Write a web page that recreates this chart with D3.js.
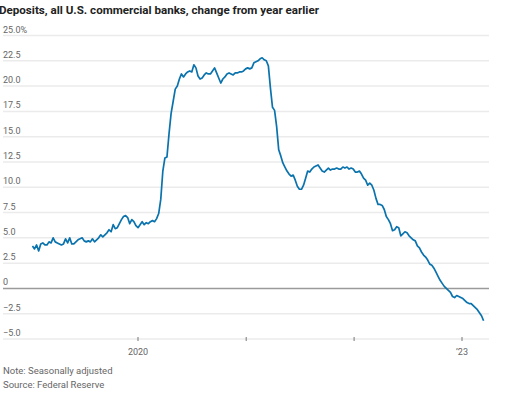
<!DOCTYPE html>
<html>
<head>
<meta charset="utf-8">
<script src="https://cdn.jsdelivr.net/npm/d3@7"></script>
<style>
  body { margin: 0; background: #fff; }
  text { font-family: Roboto, "Noto Sans", sans-serif; }
</style>
</head>
<body>
<script>
// weekly readings (Wednesdays), % change from a year earlier
const startDate = "2019-01-09";
const depositChange = [
  4.2, 3.9, 4.3, 3.7, 4.4, 4.5, 4.3, 4.3, 4.6, 4.5,
  5.0, 4.6, 4.5, 4.4, 4.3, 4.4, 4.9, 4.5, 5.0, 4.4,
  4.4, 4.6, 4.8, 4.9, 5.0, 4.7, 4.6, 4.7, 4.6, 4.9,
  4.6, 4.8, 5.0, 5.3, 5.1, 5.3, 5.5, 5.8, 5.6, 6.3,
  5.9, 6.0, 6.4, 6.8, 7.1, 7.2, 7.0, 6.4, 6.8, 6.6,
  6.2, 6.0, 6.3, 6.6, 6.3, 6.5, 6.4, 6.6, 6.7, 6.6,
  6.9, 7.4, 8.8, 11.6, 12.9, 13.0, 15.3, 17.3, 18.5, 19.7,
  20.0, 20.7, 21.2, 20.9, 21.2, 21.4, 21.5, 21.4, 22.1, 21.8,
  21.0, 20.7, 20.8, 21.1, 21.3, 21.2, 21.2, 21.5, 21.8, 21.3,
  20.8, 20.3, 20.7, 20.9, 21.2, 21.3, 21.2, 21.1, 21.3, 21.3,
  21.4, 21.4, 21.5, 21.7, 21.8, 21.7, 21.8, 22.3, 22.4, 22.5,
  22.7, 22.8, 22.6, 22.5, 22.0, 19.8, 17.9, 17.6, 16.0, 13.7,
  13.1, 12.4, 12.0, 11.6, 11.3, 11.1, 11.2, 10.7, 10.1, 9.8,
  9.8, 10.2, 10.9, 11.6, 11.5, 11.8, 12.0, 12.1, 12.2, 11.9,
  11.6, 11.5, 11.7, 11.9, 11.7, 11.8, 11.8, 11.9, 11.8, 11.8,
  12.0, 11.9, 12.0, 11.8, 11.9, 11.8, 11.5, 11.5, 11.6, 11.3,
  10.9, 10.7, 10.2, 10.4, 10.2, 9.7, 8.9, 8.3, 8.3, 8.2,
  7.8, 7.1, 6.8, 6.4, 5.7, 5.8, 6.1, 6.0, 5.2, 5.4,
  5.6, 5.5, 5.2, 5.0, 4.8, 4.7, 4.2, 4.0, 3.6, 3.3,
  3.1, 2.8, 2.4, 2.3, 2.0, 1.6, 1.2, 0.8, 0.5, 0.2,
  0.0, -0.2, -0.4, -0.8, -0.9, -0.7, -0.8, -0.9, -1.0, -1.2,
  -1.4, -1.5, -1.5, -1.7, -1.9, -2.1, -2.4, -2.7, -3.2
];
const yTicks = [-5, -2.5, 0, 2.5, 5, 7.5, 10, 12.5, 15, 17.5, 20, 22.5, 25];
const xTicks = ["2020-01-01", "2021-01-01", "2022-01-01", "2023-01-01"];
const xTickLabels = ["2020", "", "", "\u201923"];

const parse = d3.timeParse("%Y-%m-%d");
const start = parse(startDate);
const data = depositChange.map((v, i) => ({ date: d3.timeWeek.offset(start, i), value: v }));

const width = 512, height = 396;
const svg = d3.select("body").append("svg")
  .attr("width", width)
  .attr("height", height);

const x = d3.scaleTime()
  .domain([parse("2020-01-01"), parse("2023-01-01")])
  .range([138, 462]);

const y = d3.scaleLinear()
  .domain([-5, 25])
  .range([339, 35.5]);

// title
svg.append("text")
  .attr("x", -1)
  .attr("y", 14)
  .style("font-size", "11.6px")
  .style("font-weight", "bold")
  .style("fill", "#222")
  .text("Deposits, all U.S. commercial banks, change from year earlier");

// gridlines
svg.selectAll(".grid")
  .data(yTicks)
  .join("line")
  .attr("class", "grid")
  .attr("x1", 3)
  .attr("x2", 489)
  .attr("y1", d => y(d))
  .attr("y2", d => y(d))
  .style("stroke", d => d === 0 ? "#9a9a9a" : "#ebebeb")
  .style("stroke-width", d => d === 0 ? 1.5 : 1.5);

// y labels
const fmt = d => d === 25 ? "25.0%" : d === 0 ? "0" : d3.format(".1f")(d);
svg.selectAll(".ylab")
  .data(yTicks)
  .join("text")
  .attr("class", "ylab")
  .attr("x", 3)
  .attr("y", d => y(d) - 3)
  .style("font-size", "9px")
  .style("fill", "#666")
  .text(fmt);

// x ticks
svg.selectAll(".xtick")
  .data(xTicks)
  .join("line")
  .attr("class", "xtick")
  .attr("x1", d => x(parse(d)))
  .attr("x2", d => x(parse(d)))
  .attr("y1", y(-5) - 2)
  .attr("y2", y(-5) + 2)
  .style("stroke", "#777")
  .style("stroke-width", 1);

svg.selectAll(".xlab")
  .data(xTicks)
  .join("text")
  .attr("class", "xlab")
  .attr("x", d => x(parse(d)))
  .attr("y", 355)
  .attr("text-anchor", "middle")
  .style("font-size", "9px")
  .style("fill", "#666")
  .text((d, i) => xTickLabels[i]);

// line
const line = d3.line()
  .x(d => x(d.date))
  .y(d => y(d.value));

svg.append("path")
  .datum(data)
  .attr("d", line)
  .style("fill", "none")
  .style("stroke", "#0a73ad")
  .style("stroke-width", 1.7)
  .style("stroke-linejoin", "round");

// footnotes
svg.append("text")
  .attr("x", 3).attr("y", 374)
  .style("font-size", "9.5px").style("fill", "#666")
  .text("Note: Seasonally adjusted");
svg.append("text")
  .attr("x", 3).attr("y", 388)
  .style("font-size", "9.5px").style("fill", "#666")
  .text("Source: Federal Reserve");
</script>
</body>
</html>
